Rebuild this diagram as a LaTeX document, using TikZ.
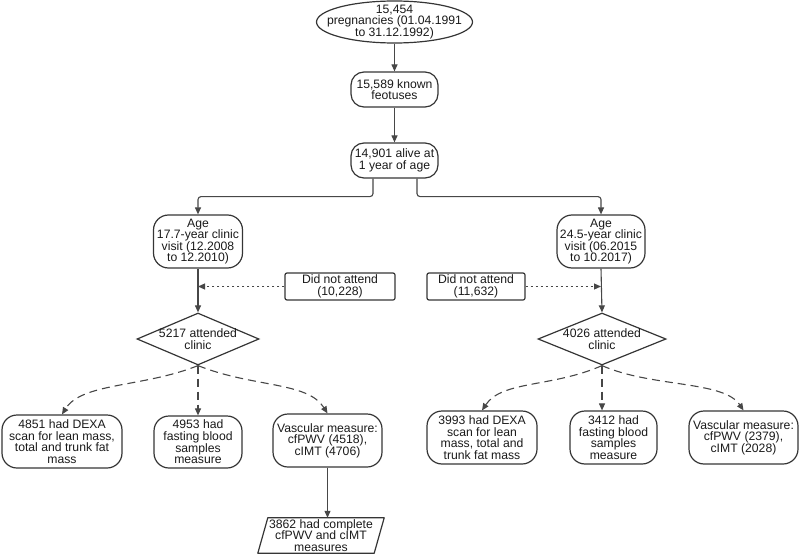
\documentclass[tikz,border=0pt]{standalone}
\usepackage{fontspec}
\setmainfont{Liberation Sans}
\usetikzlibrary{shapes.geometric,arrows.meta,calc}
\definecolor{bord}{HTML}{353535}
\definecolor{conn}{HTML}{474747}
\definecolor{txt}{HTML}{1A1A1A}
\begin{document}
\begin{tikzpicture}[x=1pt,y=-1pt,
  every node/.style={font=\fontsize{12.2}{11.6}\selectfont, text=txt, align=center, inner sep=0pt},
  box/.style={draw=bord, line width=1.2pt, rounded corners=15pt},
  plainbox/.style={draw=bord, line width=1.2pt, rounded corners=2pt},
  shp/.style={draw=bord, line width=1.2pt},
  arr/.style={draw=conn, line width=1.1pt, -{Triangle[length=7pt,width=6pt]}},
  dasharr/.style={arr, dash pattern=on 8pt off 5pt},
  dotarr/.style={arr, dash pattern=on 2pt off 3pt}]
\useasboundingbox (0,0) rectangle (800,559);

% top chain
\node[shp, ellipse, minimum width=156pt, minimum height=42pt] (e1) at (394.5,22) {};
\node (e1t) at (e1.center) {15,454\\pregnancies (01.04.1991\\to 31.12.1992)};
\node[box, rounded corners=13pt, minimum width=87pt, minimum height=35pt] (b2) at (394.5,89.5) {15,589 known\\feotuses};
\node[box, rounded corners=13pt, minimum width=87pt, minimum height=35pt] (b3) at (394.5,160.5) {14,901 alive at\\1 year of age};

% left branch
\node[box, minimum width=89pt, minimum height=53pt] (age1) at (198,241.5) {Age\\17.7-year clinic\\visit (12.2008\\to 12.2010)};
\node[plainbox, minimum width=110pt, minimum height=27pt] (dna1) at (340,286.5) {Did not attend\\(10,228)};
\node[shp, diamond, minimum width=122pt, minimum height=52pt] (dia1) at (198,339) {};
\node (dia1t) at (dia1.center) {5217 attended\\clinic};
\node[box, minimum width=120pt, minimum height=53pt] (l1) at (62,441.5) {4851 had DEXA\\scan for lean mass,\\total and trunk fat\\mass};
\node[box, minimum width=88pt, minimum height=52pt] (m1) at (198,442) {4953 had\\fasting blood\\samples\\measure};
\node[box, minimum width=109pt, minimum height=53pt] (r1) at (327.5,440.5) {Vascular measure:\\cfPWV (4518),\\cIMT (4706)};
\node[minimum width=126pt, minimum height=35pt] (p1) at (321,535.5) {};
\node (p1t) at (p1.center) {3862 had complete\\cfPWV and cIMT\\measures};
\draw[shp, line join=round] (p1.south west) -- ($(p1.south east)+(-10,0)$) -- (p1.north east) -- ($(p1.north west)+(10,0)$) -- cycle;

% right branch
\node[box, minimum width=88pt, minimum height=53pt] (age2) at (601,241.5) {Age\\24.5-year clinic\\visit (06.2015\\to 10.2017)};
\node[plainbox, minimum width=98pt, minimum height=27pt] (dna2) at (476,286.5) {Did not attend\\(11,632)};
\node[shp, diamond, minimum width=128pt, minimum height=52pt] (dia2) at (602,339) {};
\node (dia2t) at (dia2.center) {4026 attended\\clinic};
\node[box, minimum width=110pt, minimum height=53pt] (l2) at (482,437.5) {3993 had DEXA\\scan for lean\\mass, total and\\trunk fat mass};
\node[box, minimum width=87pt, minimum height=53pt] (m2) at (613.5,437.5) {3412 had\\fasting blood\\samples\\measure};
\node[box, minimum width=109pt, minimum height=53pt] (r2) at (743.5,437.5) {Vascular measure:\\cfPWV (2379),\\cIMT (2028)};

% connectors
\draw[arr] (e1.south) -- (b2.north);
\draw[arr] (b2.south) -- (b3.north);
\draw[arr, rounded corners=3pt] ([xshift=-21.5pt]b3.south) -- ++(0,18) -| (age1.north);
\draw[arr, rounded corners=3pt] ([xshift=22.5pt]b3.south) -- ++(0,18) -| (age2.north);

\draw[arr] (age1.south) -- (dia1.north);
\draw[dotarr] (dna1.west) -- (dna1.west -| age1.south);
\draw[dasharr] (dia1.south) .. controls +(-55,22) and +(20,-32) .. (l1.north);
\draw[dasharr] (dia1.south) -- (m1.north);
\draw[dasharr] (dia1.south) .. controls +(55,22) and +(-20,-32) .. (r1.north);
\draw[arr] (r1.south) -- (r1.south |- p1.north);

\draw[arr] (age2.south) -- (dia2.north);
\draw[dotarr] (dna2.east) -- (dna2.east -| age2.south);
\draw[dasharr] (dia2.south) .. controls +(-50,22) and +(20,-30) .. (l2.north);
\draw[dasharr] (dia2.south) -- (dia2.south |- m2.north);
\draw[dasharr] (dia2.south) .. controls +(50,22) and +(-20,-30) .. (r2.north);
\end{tikzpicture}
\end{document}
